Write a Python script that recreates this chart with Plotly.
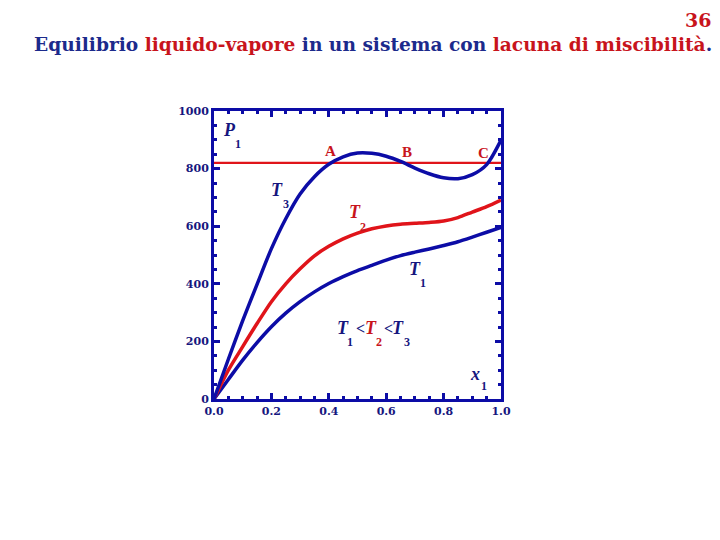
import plotly.graph_objects as go

# ---- data ----
t3_x = [0, 0.05, 0.10, 0.15, 0.20, 0.25, 0.30, 0.35, 0.40, 0.45, 0.50, 0.55, 0.60, 0.65, 0.70, 0.75, 0.80, 0.85, 0.90, 0.95, 1.0]
t3_y = [0, 138, 272, 398, 522, 626, 712, 772, 815, 841, 854, 853, 843, 825, 802, 782, 768, 765, 779, 814, 899]

t2_x = [0, 0.05, 0.10, 0.15, 0.20, 0.25, 0.30, 0.35, 0.40, 0.45, 0.50, 0.55, 0.60, 0.65, 0.70, 0.75, 0.80, 0.85, 0.90, 0.95, 1.0]
t2_y = [0, 100, 182, 262, 338, 400, 452, 497, 530, 556, 576, 591, 601, 607, 610, 613, 618, 630, 649, 668, 691]

t1_x = [0, 0.05, 0.10, 0.15, 0.20, 0.25, 0.30, 0.35, 0.40, 0.45, 0.50, 0.55, 0.60, 0.65, 0.70, 0.75, 0.80, 0.85, 0.90, 0.95, 1.0]
t1_y = [0, 68, 135, 196, 251, 298, 338, 372, 401, 425, 446, 464, 482, 498, 510, 521, 533, 546, 562, 579, 596]

p1_x = [0, 1]
p1_y = [820, 820]

x_ticks = [0, 0.2, 0.4, 0.6, 0.8, 1.0]
x_tick_labels = ["0.0", "0.2", "0.4", "0.6", "0.8", "1.0"]
y_ticks = [0, 200, 400, 600, 800, 1000]
y_tick_labels = ["0", "200", "400", "600", "800", "1000"]

BLUE = "#0c0ca6"
NAVY = "#16167e"
RED = "#e0141a"
TRED = "#c8141c"
TBLUE = "#1c2a8c"
FONT = "Liberation Serif"
WFONT = "DejaVu Serif"

fig = go.Figure()
spl = dict(shape="spline", smoothing=0.8)
fig.add_trace(go.Scatter(x=p1_x, y=p1_y, mode="lines", line=dict(color=RED, width=2.2)))
fig.add_trace(go.Scatter(x=t1_x, y=t1_y, mode="lines", line=dict(color=BLUE, width=3.5, **spl)))
fig.add_trace(go.Scatter(x=t2_x, y=t2_y, mode="lines", line=dict(color=RED, width=3.5, **spl)))
fig.add_trace(go.Scatter(x=t3_x, y=t3_y, mode="lines", line=dict(color=BLUE, width=3.5, **spl)))

# plot-area edges in reference pixels; the page body adds an 8px offset
OFF = 8
L, R, T, B = 214, 501, 111, 399
W, H = 720 - OFF, 540 - OFF


def dx(px):
    return (px - L) / (R - L)


def dy(py):
    return (B - py) / (B - T) * 1000


def lab(px, py, text, color, size, italic=False):
    t = f"<b><i>{text}</i></b>" if italic else f"<b>{text}</b>"
    fig.add_annotation(x=dx(px), y=dy(py), xref="x", yref="y", text=t, showarrow=False,
                       font=dict(family=FONT, size=size, color=color), xanchor="center",
                       yanchor="middle", borderpad=0)


# letters and subscripts
lab(229, 130, "P", NAVY, 18, True)
lab(238, 144, "1", NAVY, 12)
lab(330, 151, "A", TRED, 15)
lab(407, 152, "B", TRED, 15)
lab(483, 153, "C", TRED, 15)
lab(277, 190, "T", NAVY, 18, True)
lab(286, 204, "3", NAVY, 12)
lab(355, 212, "T", TRED, 18, True)
lab(363, 227, "2", TRED, 12)
lab(415, 269, "T", NAVY, 18, True)
lab(423, 283, "1", NAVY, 12)
lab(343, 328, "T", NAVY, 18, True)
lab(350, 342, "1", NAVY, 12)
lab(360, 328, "&lt;", NAVY, 16)
lab(371, 328, "T", TRED, 18, True)
lab(379, 342, "2", TRED, 12)
lab(388, 328, "&lt;", NAVY, 16)
lab(398, 328, "T", NAVY, 18, True)
lab(407, 342, "3", NAVY, 12)
lab(475, 374, "x", NAVY, 18, True)
lab(484, 386, "1", NAVY, 12)

# title and page number (paper coords relative to plot area)
PH = B - T
fig.add_annotation(
    x=(372.5 - L) / (R - L), y=1 + (T - 45) / PH, xref="paper", yref="paper", showarrow=False,
    text=(f"<b>Equilibrio <span style='color:{TRED}'>liquido-vapore</span> in un sistema con "
          f"<span style='color:{TRED}'>lacuna di miscibilità</span>.</b>"),
    font=dict(family=WFONT, size=18.6, color=TBLUE), xanchor="center", yanchor="middle",
)
fig.add_annotation(
    x=(713 - L) / (R - L), y=1 + (T - 20) / PH, xref="paper", yref="paper", showarrow=False,
    text="<b>36</b>",
    font=dict(family=WFONT, size=19, color=TRED), xanchor="right", yanchor="middle",
)

axis_common = dict(
    showline=True, linewidth=3, linecolor=BLUE, mirror="allticks",
    ticks="inside", ticklen=6, tickwidth=2.5, tickcolor=BLUE,
    showgrid=False, zeroline=False,
    tickfont=dict(family=WFONT, size=11, color=NAVY, weight="bold"),
)

fig.update_layout(
    width=W, height=H,
    margin=dict(l=L - OFF, r=W - (R - OFF), t=T - OFF, b=H - (B - OFF)),
    paper_bgcolor="white", plot_bgcolor="white",
    showlegend=False,
    xaxis=dict(range=[0, 1], tickvals=x_ticks, ticktext=x_tick_labels,
               minor=dict(dtick=0.05, ticks="inside", ticklen=3, tickwidth=2.5, tickcolor=BLUE),
               **axis_common),
    yaxis=dict(range=[0, 1000], tickvals=y_ticks, ticktext=y_tick_labels,
               minor=dict(dtick=50, ticks="inside", ticklen=3, tickwidth=2.5, tickcolor=BLUE),
               **axis_common),
)

fig.write_html("out.html")
